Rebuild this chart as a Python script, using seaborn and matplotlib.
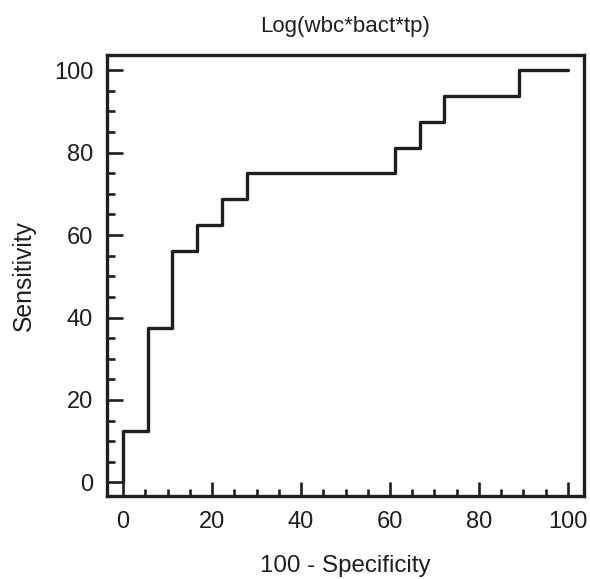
import matplotlib
matplotlib.use("Agg")
import matplotlib.pyplot as plt
import seaborn as sns
import pandas as pd
from matplotlib.ticker import MultipleLocator

sns.set_theme(style="white")
plt.rcParams['font.family'] = ['Liberation Sans', 'DejaVu Sans']

# ROC points (100 - Specificity, Sensitivity)
fpr = [0, 0, 5.56, 11.11, 16.67, 22.22, 27.78, 61.11, 66.67, 72.22, 88.89, 100]
tpr = [0, 12.5, 37.5, 56.25, 62.5, 68.75, 75, 81.25, 87.5, 93.75, 100, 100]
title = "Log(wbc*bact*tp)"
xlabel = "100 - Specificity"
ylabel = "Sensitivity"
ticks = [0, 20, 40, 60, 80, 100]

df = pd.DataFrame({"fpr": fpr, "tpr": tpr})
ink = "#1e1e1e"

fig = plt.figure(figsize=(5.9, 5.79), dpi=100)
ax = fig.add_axes([0.1814, 0.1434, 0.8084, 0.7616])
sns.lineplot(data=df, x="fpr", y="tpr", ax=ax, sort=False, estimator=None,
             drawstyle="steps-post", color=ink, linewidth=2.4)

ax.set_xlim(-3.6, 103.6)
ax.set_ylim(-3.3, 103.7)
ax.set_xticks(ticks)
ax.set_yticks(ticks)
ax.xaxis.set_minor_locator(MultipleLocator(5))
ax.yaxis.set_minor_locator(MultipleLocator(5))
for s in ax.spines.values():
    s.set_linewidth(2.4)
    s.set_color(ink)
ax.tick_params(axis="x", which="major", direction="in", length=10, width=1.9,
               color=ink, labelsize=17, pad=11, bottom=True)
ax.tick_params(axis="y", which="major", direction="in", length=11.5, width=1.9,
               color=ink, labelsize=17, pad=10, left=True)
ax.tick_params(axis="x", which="minor", direction="in", length=5, width=1.9,
               color=ink, bottom=True)
ax.tick_params(axis="y", which="minor", direction="in", length=6, width=1.9,
               color=ink, left=True)
ax.set_xlabel(xlabel, fontsize=17.4, labelpad=16, color=ink)
ax.set_ylabel(ylabel, fontsize=17.8, labelpad=13, color=ink)
ax.set_title(title, fontsize=16, pad=16.5, color=ink)
for lab in ax.get_xticklabels() + ax.get_yticklabels():
    lab.set_color(ink)

fig.savefig("out.png", dpi=100)
